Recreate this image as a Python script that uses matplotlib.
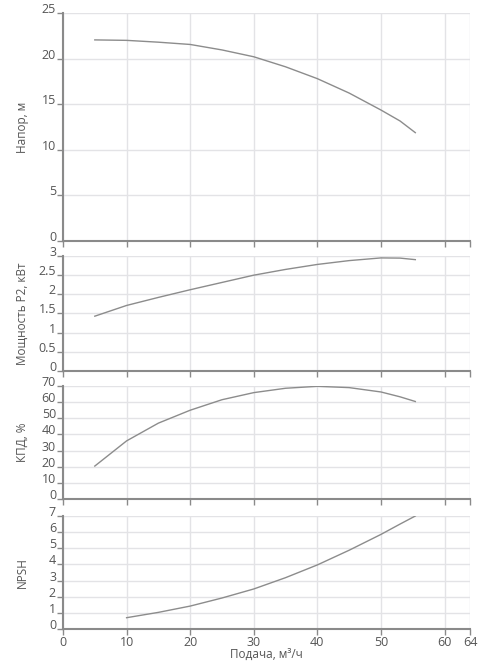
import matplotlib.pyplot as plt

plt.rcParams['font.family'] = ['Open Sans', 'DejaVu Sans']

# flow, m3/h
flow = [5, 10, 15, 20, 25, 30, 35, 40, 45, 50, 53, 55.4]
head = [22.05, 22.0, 21.8, 21.55, 20.95, 20.2, 19.1, 17.8, 16.22, 14.36, 13.16, 11.88]
power = [1.43, 1.71, 1.92, 2.12, 2.31, 2.50, 2.65, 2.78, 2.88, 2.95, 2.945, 2.905]
eff = [20.4, 36, 47, 55, 61.5, 65.9, 68.6, 69.8, 69.0, 66.3, 63.3, 60.4]
flow_npsh = [10, 15, 20, 25, 30, 35, 40, 45, 50, 53, 55.4]
npsh = [0.7, 1.03, 1.42, 1.92, 2.48, 3.18, 3.97, 4.88, 5.86, 6.5, 7.0]

xticks = [0, 10, 20, 30, 40, 50, 60, 64]

panels = [
    (flow, head, 'Напор, м', [0, 5, 10, 15, 20, 25], ['0', '5', '10', '15', '20', '25']),
    (flow, power, 'Мощность P2, кВт', [0, 0.5, 1, 1.5, 2, 2.5, 3],
     ['0', '0.5', '1', '1.5', '2', '2.5', '3']),
    (flow, eff, 'КПД, %', [0, 10, 20, 30, 40, 50, 60, 70],
     ['0', '10', '20', '30', '40', '50', '60', '70']),
    (flow_npsh, npsh, 'NPSH', [0, 1, 2, 3, 4, 5, 6, 7],
     ['0', '1', '2', '3', '4', '5', '6', '7']),
]

# panel boxes in pixels: top, bottom
boxes = [(13, 241), (256, 371), (386, 499), (516, 629)]

W, H = 480, 664
fig = plt.figure(figsize=(W / 100, H / 100), dpi=100)

axis_col = '#8a8a8a'
text_col = '#555555'
grid_col = '#e3e3e6'

for i, ((xs, ys, label, yt, ytl), (top, bot)) in enumerate(zip(panels, boxes)):
    ax = fig.add_axes([63 / W, 1 - bot / H, (470 - 63) / W, (bot - top) / H])
    ax.plot(xs, ys, color='#8c8c8c', lw=1.0)
    ax.set_xlim(0, 64)
    ax.set_ylim(yt[0], yt[-1])
    ax.set_xticks(xticks)
    ax.set_yticks(yt)
    ax.set_yticklabels(ytl)
    for lab in ax.get_yticklabels():
        lab.set_verticalalignment('baseline')
    ax.grid(True, color=grid_col, lw=1.0)
    ax.set_axisbelow(True)
    for s in ['top', 'right']:
        ax.spines[s].set_visible(False)
    ax.spines['left'].set_color(axis_col)
    ax.spines['bottom'].set_color(axis_col)
    ax.spines['left'].set_linewidth(1.5)
    ax.spines['bottom'].set_linewidth(1.5)
    ax.tick_params(colors=axis_col, labelcolor=text_col, labelsize=9,
                   length=4, width=1, pad=1)
    ax.set_ylabel(label, color=text_col, fontsize=8.5)
    ax.yaxis.set_label_coords(-0.083, 0.5)
    if i < 3:
        ax.tick_params(axis='x', labelbottom=False)
    else:
        ax.set_xlabel('Подача, м³/ч', color=text_col, fontsize=8.5, labelpad=-1)

fig.savefig('out.png', dpi=100)
